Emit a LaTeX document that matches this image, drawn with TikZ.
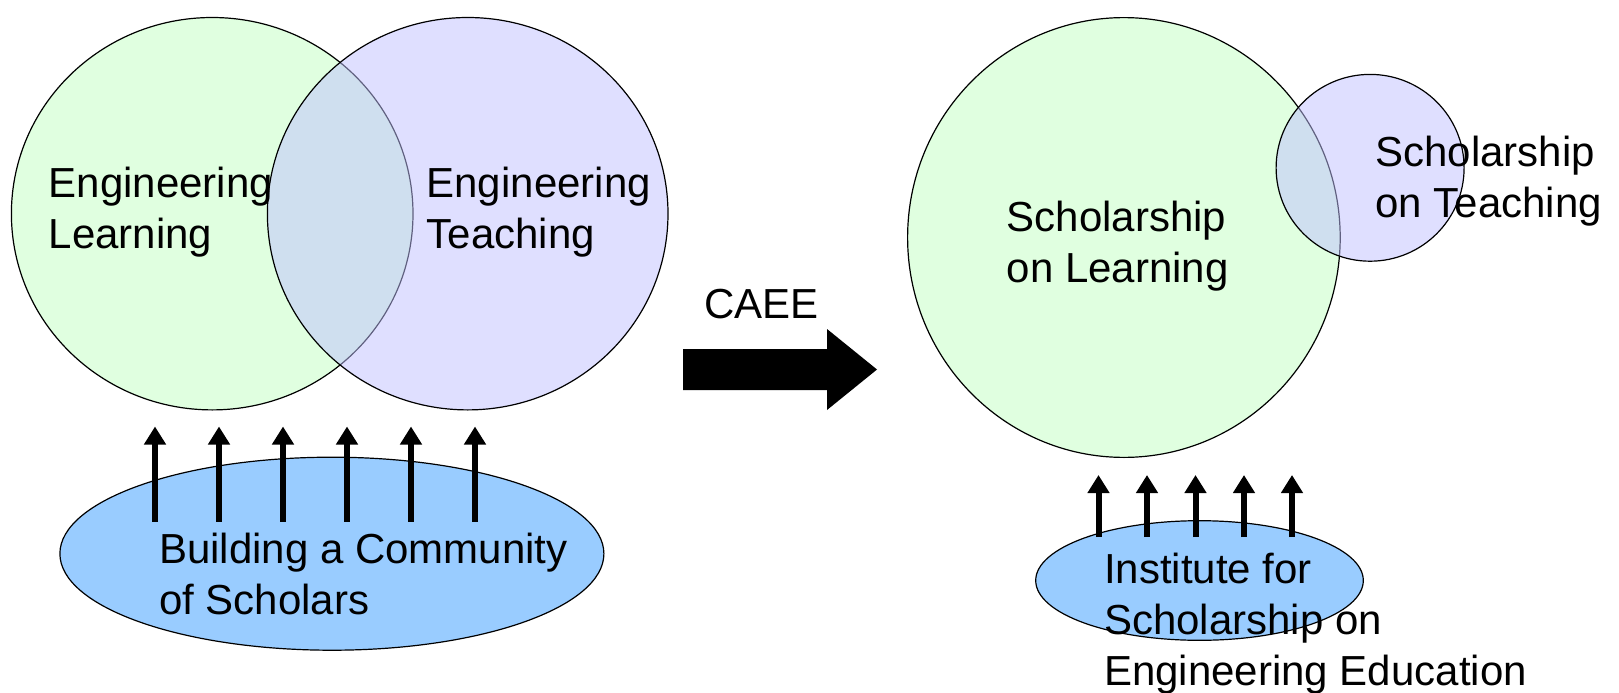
\documentclass[tikz,border=0pt]{standalone}
\usepackage{fontspec}
\setmainfont{Liberation Sans}
\usetikzlibrary{arrows.meta,shapes.geometric}
\definecolor{lgreen}{RGB}{224,255,224}
\definecolor{lpurple}{RGB}{192,192,255}
\definecolor{lblue}{RGB}{153,204,255}
\begin{document}
\begin{tikzpicture}[x=1pt,y=-1pt,
  venn/.style={shape=ellipse, draw=black, line width=1.2pt, inner sep=0pt},
  greenset/.style={venn, fill=lgreen},
  purpleset/.style={venn, fill=lpurple, fill opacity=0.5, draw opacity=1},
  blueset/.style={venn, fill=lblue},
  lbl/.style={font=\fontsize{42}{51}\selectfont, align=left, anchor=base west, inner sep=0pt},
  uparrow/.style={line width=6pt, -{Triangle[width=21pt,length=18pt]}},
  bigarrow/.style={fill=black}]
\useasboundingbox (0,0) rectangle (1619,693);
\fill[white] (0,0) rectangle (1619,693);

% ---------- left diagram ----------
\node (gl) [greenset, minimum width=401.6pt, minimum height=392.4pt] at (212.2,213.7) {};
\node (pl) [purpleset, minimum width=400.6pt, minimum height=392.4pt] at (467.7,213.7) {};
\node (tel) [lbl] at (48.5,248) {Engineering\\Learning};
\node (tet) [lbl] at (426.4,248) {Engineering\\Teaching};

\node (bl) [blueset, minimum width=544pt, minimum height=193pt] at (331.9,553.7) {};
\foreach \i/\x in {1/155,2/219,3/283,4/347,5/411,6/475} {
  \coordinate (la\i s) at (\x,521.5);
  \coordinate (la\i e) at (\x,426.5);
  \draw[uparrow] (la\i s) -- (la\i e);
}
\node (tb) [lbl] at (159,614) {Building a Community\\of Scholars};

% ---------- middle ----------
\node (caee) [lbl] at (704,318) {CAEE};
\fill[bigarrow] (683,349) -- (827,349) -- (827,329) -- (877,369.5) -- (827,410) -- (827,390) -- (683,390) -- cycle;

% ---------- right diagram ----------
\node (gr) [greenset, minimum width=432.6pt, minimum height=439.8pt] at (1123.9,237.5) {};
\node (pr) [purpleset, minimum width=188pt, minimum height=186.8pt] at (1370.1,167.8) {};
\node (tsl) [lbl] at (1006.7,282) {Scholarship\\on Learning};
\node (tst) [lbl] at (1375.3,217) {Scholarship\\on Teaching};

\node (br) [blueset, minimum width=327.6pt, minimum height=119.6pt] at (1199.5,580.5) {};
\foreach \i/\x in {1/1098.5,2/1147,3/1195.5,4/1244,5/1292} {
  \coordinate (ra\i s) at (\x,537);
  \coordinate (ra\i e) at (\x,475);
  \draw[uparrow] (ra\i s) -- (ra\i e);
}
\node (ti) [lbl] at (1104,685) {Institute for\\Scholarship on\\Engineering Education};
\end{tikzpicture}
\end{document}
